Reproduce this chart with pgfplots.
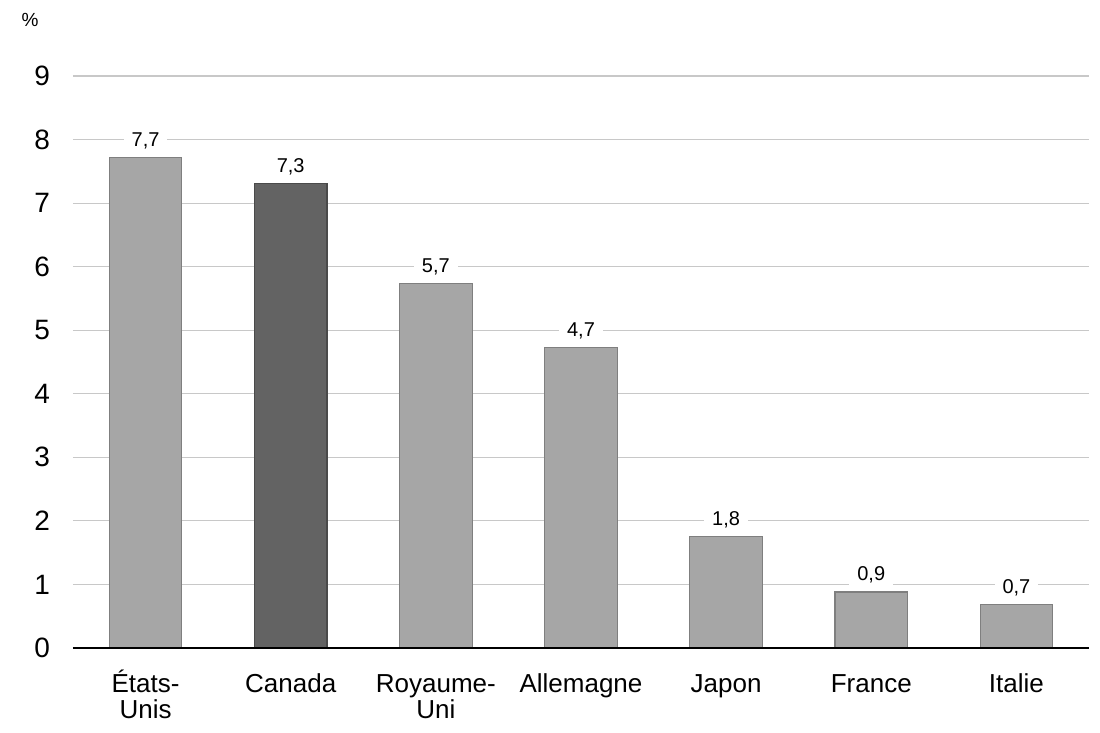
\documentclass[border=0pt]{standalone}
\usepackage{fontspec}
\setmainfont{Liberation Sans}
\usepackage{pgfplots}
\pgfplotsset{compat=1.18}
\definecolor{barlight}{HTML}{A6A6A6}
\definecolor{bardark}{HTML}{636363}
\definecolor{edgelight}{HTML}{7F7F7F}
\definecolor{edgedark}{HTML}{4A4A4A}
\definecolor{gridc}{HTML}{C8C8C8}
\begin{document}
\begin{tikzpicture}[x=1pt,y=1pt]
\useasboundingbox (0,0) rectangle (550,366.5);
\begin{axis}[
  at={(36.5pt,42.5pt)}, anchor=south west,
  scale only axis,
  width=508pt, height=286pt,
  xmin=-0.5, xmax=6.5,
  ymin=0, ymax=9,
  ytick={0,1,...,9},
  xtick={0,1,2,3,4,5,6},
  xticklabels={{\vphantom{É}États-\\Unis},{\vphantom{É}Canada},{\vphantom{É}Royaume-\\Uni},{\vphantom{É}Allemagne},{\vphantom{É}Japon},{\vphantom{É}France},{\vphantom{É}Italie}},
  axis line style={draw=none},
  axis x line*=bottom,
  tick style={draw=none},
  ymajorgrids, grid style={gridc, line width=0.6pt},
  /pgf/number format/assume math mode=true,
  /pgf/number format/.cd, use comma, fixed, fixed zerofill, precision=1,
  /pgfplots/.cd,
  yticklabel style={font=\fontsize{14}{15}\selectfont, /pgf/number format/precision=0, /pgf/number format/fixed zerofill=false, xshift=-8pt},
  xticklabel style={font=\fontsize{13}{13}\selectfont, align=center, anchor=north, yshift=-3pt},
  ybar, bar width=0.5, bar shift=0pt,
  nodes near coords,
  nodes near coords style={font=\fontsize{10}{11}\selectfont, fill=white, inner xsep=4pt, inner ysep=1.5pt, yshift=2.5pt},
  clip=false,
]
\addplot[fill=barlight, draw=edgelight, line width=0.6pt] coordinates {(0,7.72) (2,5.74) (3,4.73) (4,1.75) (5,0.88) (6,0.68)};
\addplot[fill=bardark, draw=edgedark, line width=0.6pt] coordinates {(1,7.31)};
\draw[black, line width=0.8pt] (axis cs:-0.5,0) -- (axis cs:6.5,0);
\end{axis}
\node[font=\fontsize{9.5}{10}\selectfont, anchor=base] at (15,353) {\%};
\end{tikzpicture}
\end{document}
